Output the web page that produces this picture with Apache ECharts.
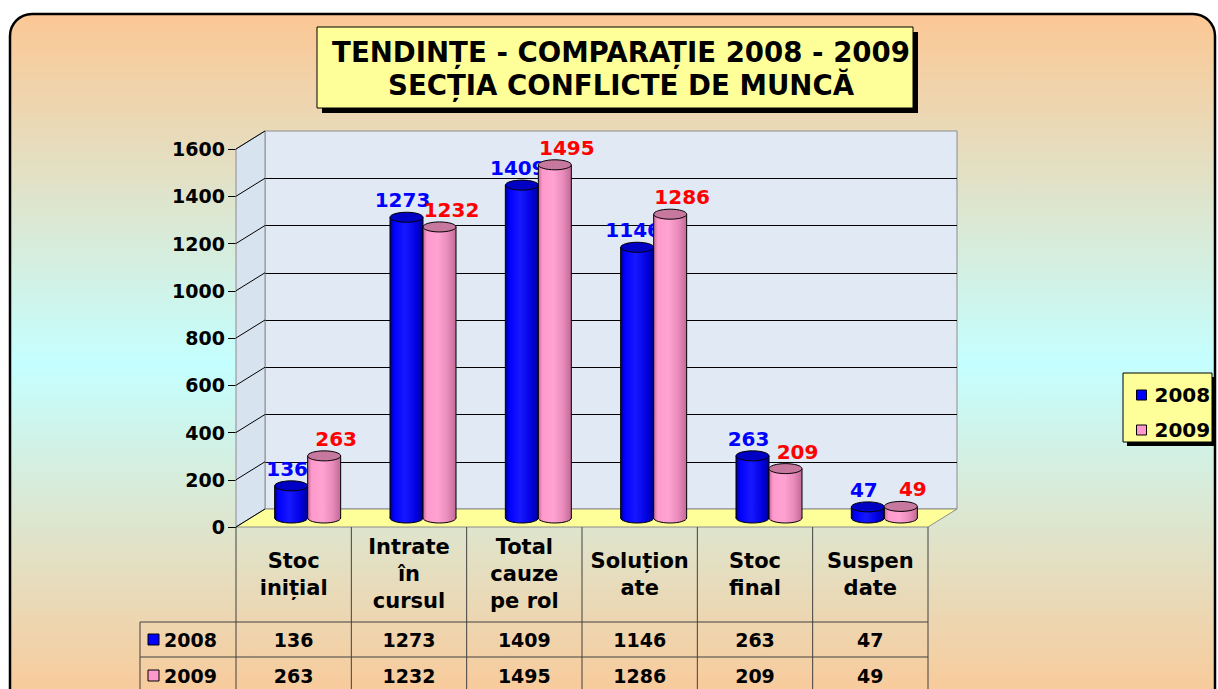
<!DOCTYPE html>
<html>
<head>
<meta charset="utf-8">
<script src="https://cdn.jsdelivr.net/npm/echarts@6/dist/echarts.min.js"></script>
<style>
html,body{margin:0;padding:0;background:#fff;}
#main{width:1218px;height:689px;}
</style>
</head>
<body>
<div id="main"></div>
<script>
// date
const categories = ['Stoc\ninițial', 'Intrate\nîn\ncursul', 'Total\ncauze\npe rol', 'Soluțion\nate', 'Stoc\nfinal', 'Suspen\ndate'];
const seriesNames = ['2008', '2009'];
const values2008 = [136, 1273, 1409, 1146, 263, 47];
const values2009 = [263, 1232, 1495, 1286, 209, 49];
const yTicks = [0, 200, 400, 600, 800, 1000, 1200, 1400, 1600];

const FONT = '"DejaVu Sans", sans-serif';
const DX = 29, DY = -18;   // adancimea 3D

const chart = echarts.init(document.getElementById('main'), null, {renderer: 'svg'});

// perete lateral + podea
function renderWalls(params, api) {
  const cs = params.coordSys;
  const x = cs.x, y = cs.y, w = cs.width, h = cs.height;
  return {
    type: 'group',
    children: [
      {type: 'polygon', shape: {points: [[x, y], [x + DX, y + DY], [x + DX, y + h + DY], [x, y + h]]},
        style: {fill: '#D8E3F0', stroke: '#8C8C8C', lineWidth: 1}},
      {type: 'polygon', shape: {points: [[x, y + h], [x + DX, y + h + DY], [x + w + DX, y + h + DY], [x + w, y + h]]},
        style: {fill: '#FFFF99', stroke: '#8C8C8C', lineWidth: 1}}
    ]
  };
}

// linii oblice pe peretele lateral
function renderTickLine(params, api) {
  const cs = params.coordSys;
  const p = api.coord([0, api.value(1)]);
  return {
    type: 'line',
    shape: {x1: cs.x, y1: p[1], x2: cs.x + DX, y2: p[1] + DY},
    style: {stroke: '#000', lineWidth: 1}
  };
}

// cilindru
function makeCylinder(side, stops, capColor, labelColor, labelDx) {
  return function (params, api) {
    const i = api.value(0), v = api.value(1);
    const top = api.coord([i, v]);
    const base = api.coord([i, 0]);
    const bw = 33, rx = bw / 2, ry = 5;
    const cx = top[0] + side * rx;
    const grad = () => new echarts.graphic.LinearGradient(0, 0, 1, 0, stops);
    return {
      type: 'group',
      children: [
        {type: 'ellipse', shape: {cx: cx, cy: base[1], rx: rx, ry: ry}, style: {fill: grad(), stroke: '#000', lineWidth: 1}},
        {type: 'rect', shape: {x: cx - rx, y: top[1], width: bw, height: base[1] - top[1]}, style: {fill: grad()}},
        {type: 'line', shape: {x1: cx - rx, y1: top[1], x2: cx - rx, y2: base[1]}, style: {stroke: '#000', lineWidth: 1}},
        {type: 'line', shape: {x1: cx + rx, y1: top[1], x2: cx + rx, y2: base[1]}, style: {stroke: '#000', lineWidth: 1}},
        {type: 'ellipse', shape: {cx: cx, cy: top[1], rx: rx, ry: ry}, style: {fill: capColor, stroke: '#000', lineWidth: 1}},
        {type: 'text', x: cx + labelDx, y: top[1] - 17,
          style: {text: String(v), fill: labelColor, font: 'bold 20px ' + FONT, align: 'center', verticalAlign: 'middle'}}
      ]
    };
  };
}

// tabel de date
function renderTable(params, api) {
  const cs = params.coordSys;
  const i = api.value(0);
  const c = api.coord([i, 0]);
  const band = cs.width / categories.length;
  const left = c[0] - band / 2, right = c[0] + band / 2;
  const y0 = cs.y + cs.height;
  const yEnd = y0 + 190;
  const line = (x1, y1, x2, y2) => ({type: 'line', shape: {x1, y1, x2, y2}, style: {stroke: '#404040', lineWidth: 1}});
  const txt = (x, y, t, size, align) => ({type: 'text', x: x, y: y,
    style: {text: t, font: 'bold ' + size + 'px ' + FONT, fill: '#000', align: align || 'center', verticalAlign: 'middle', lineHeight: 27}});
  const ch = [
    line(left, y0, left, yEnd),
    txt(c[0], y0 + 47, categories[i], 21),
    txt(c[0], y0 + 113, String(api.value(1)), 19),
    txt(c[0], y0 + 149, String(api.value(2)), 19)
  ];
  if (i === categories.length - 1) ch.push(line(right, y0, right, yEnd));
  if (i === 0) {
    const lx = cs.x - 96, rx2 = cs.x + cs.width;
    ch.push(line(lx, y0 + 95, rx2, y0 + 95), line(lx, y0 + 130, rx2, y0 + 130), line(lx, y0 + 95, lx, yEnd));
    ch.push({type: 'rect', shape: {x: lx + 8, y: y0 + 107, width: 11, height: 11}, style: {fill: '#0000FF', stroke: '#000', lineWidth: 1}});
    ch.push(txt(lx + 24, y0 + 113, seriesNames[0], 19, 'left'));
    ch.push({type: 'rect', shape: {x: lx + 8, y: y0 + 143, width: 11, height: 11}, style: {fill: '#FF99CC', stroke: '#000', lineWidth: 1}});
    ch.push(txt(lx + 24, y0 + 149, seriesNames[1], 19, 'left'));
  }
  return {type: 'group', children: ch};
}

const blueStops = [
  {offset: 0, color: '#00007A'}, {offset: 0.12, color: '#0000FF'}, {offset: 0.45, color: '#1818FF'},
  {offset: 0.8, color: '#0000E0'}, {offset: 1, color: '#000090'}
];
const pinkStops = [
  {offset: 0, color: '#C06A96'}, {offset: 0.12, color: '#FF99CC'}, {offset: 0.45, color: '#FFA3D2'},
  {offset: 0.75, color: '#E98BBB'}, {offset: 1, color: '#C06A96'}
];

const hiddenY = {min: 0, max: 1600, interval: 200};

chart.setOption({
  animation: false,
  title: {
    text: 'TENDINȚE - COMPARAȚIE 2008 - 2009\nSECȚIA CONFLICTE DE MUNCĂ',
    left: 616, top: 31, textAlign: 'center', z: 10,
    textStyle: {fontFamily: FONT, fontWeight: 'bold', fontSize: 27.6, lineHeight: 33, color: '#000'}
  },
  legend: {
    orient: 'vertical', left: 1131, top: 380, z: 10,
    itemWidth: 10, itemHeight: 10, itemGap: 15, icon: 'rect', selectedMode: false,
    textStyle: {fontFamily: FONT, fontWeight: 'bold', fontSize: 20, color: '#000', padding: [0, 0, 0, 3]},
    data: [
      {name: seriesNames[0], itemStyle: {color: '#0000FF', borderColor: '#000', borderWidth: 1}},
      {name: seriesNames[1], itemStyle: {color: '#FF99CC', borderColor: '#000', borderWidth: 1}}
    ]
  },
  graphic: [
    {type: 'rect', z: -10, shape: {x: 10, y: 14, width: 1205, height: 700, r: 22},
      style: {fill: new echarts.graphic.LinearGradient(0, 0, 0, 1, [
        {offset: 0, color: '#FCC794'}, {offset: 0.5, color: '#C4FFFF'}, {offset: 1, color: '#FCC794'}
      ]), stroke: '#000', lineWidth: 2.5}},
    {type: 'rect', z: 1, shape: {x: 322, y: 32, width: 596, height: 81}, style: {fill: '#000'}},
    {type: 'rect', z: 1, shape: {x: 317, y: 27, width: 596, height: 81}, style: {fill: '#FFFF99', stroke: '#000', lineWidth: 1}},
    {type: 'rect', z: 1, shape: {x: 1127, y: 377, width: 89, height: 69}, style: {fill: '#000'}},
    {type: 'rect', z: 1, shape: {x: 1123, y: 373, width: 89, height: 69}, style: {fill: '#FFFF99', stroke: '#000', lineWidth: 1}}
  ],
  grid: [
    {left: 236, top: 149, width: 692, height: 378},
    {left: 250, top: 140, width: 692, height: 378},
    {left: 265, top: 131, width: 692, height: 378, show: true, backgroundColor: '#E0E9F4', borderColor: '#8C8C8C', borderWidth: 1}
  ],
  xAxis: [
    {type: 'category', gridIndex: 0, data: categories, show: false},
    {type: 'category', gridIndex: 1, data: categories, show: false},
    {type: 'category', gridIndex: 2, data: categories, show: false}
  ],
  yAxis: [
    Object.assign({type: 'value', gridIndex: 0,
      axisLine: {show: true, lineStyle: {color: '#000', width: 1}},
      axisTick: {show: true, length: 8, lineStyle: {color: '#000'}},
      axisLabel: {fontFamily: FONT, fontWeight: 'bold', fontSize: 19, color: '#000', margin: 11,
        formatter: v => String(v)},
      splitLine: {show: false}}, hiddenY),
    Object.assign({type: 'value', gridIndex: 1, show: false}, hiddenY),
    Object.assign({type: 'value', gridIndex: 2,
      axisLine: {show: false}, axisTick: {show: false}, axisLabel: {show: false},
      splitLine: {show: true, showMinLine: false, showMaxLine: false, lineStyle: {color: '#000', width: 1}}}, hiddenY)
  ],
  series: [
    {type: 'custom', name: 'pereti', xAxisIndex: 0, yAxisIndex: 0, z: 1, silent: true,
      renderItem: renderWalls, data: [[0, 0]]},
    {type: 'custom', name: 'linii', xAxisIndex: 0, yAxisIndex: 0, z: 2, silent: true,
      renderItem: renderTickLine, data: yTicks.map(v => [0, v])},
    {type: 'custom', name: seriesNames[0], xAxisIndex: 1, yAxisIndex: 1, z: 3,
      itemStyle: {color: '#0000FF'},
      renderItem: makeCylinder(-1, blueStops, '#0000C4', '#0000FF', -4),
      data: values2008.map((v, i) => [i, v])},
    {type: 'custom', name: seriesNames[1], xAxisIndex: 1, yAxisIndex: 1, z: 3,
      itemStyle: {color: '#FF99CC'},
      renderItem: makeCylinder(1, pinkStops, '#C7789F', '#FF0000', 12),
      data: values2009.map((v, i) => [i, v])},
    {type: 'custom', name: 'tabel', xAxisIndex: 0, yAxisIndex: 0, z: 4, silent: true,
      renderItem: renderTable, data: categories.map((c, i) => [i, values2008[i], values2009[i]])}
  ]
});

window.addEventListener('resize', () => chart.resize());
</script>
</body>
</html>
